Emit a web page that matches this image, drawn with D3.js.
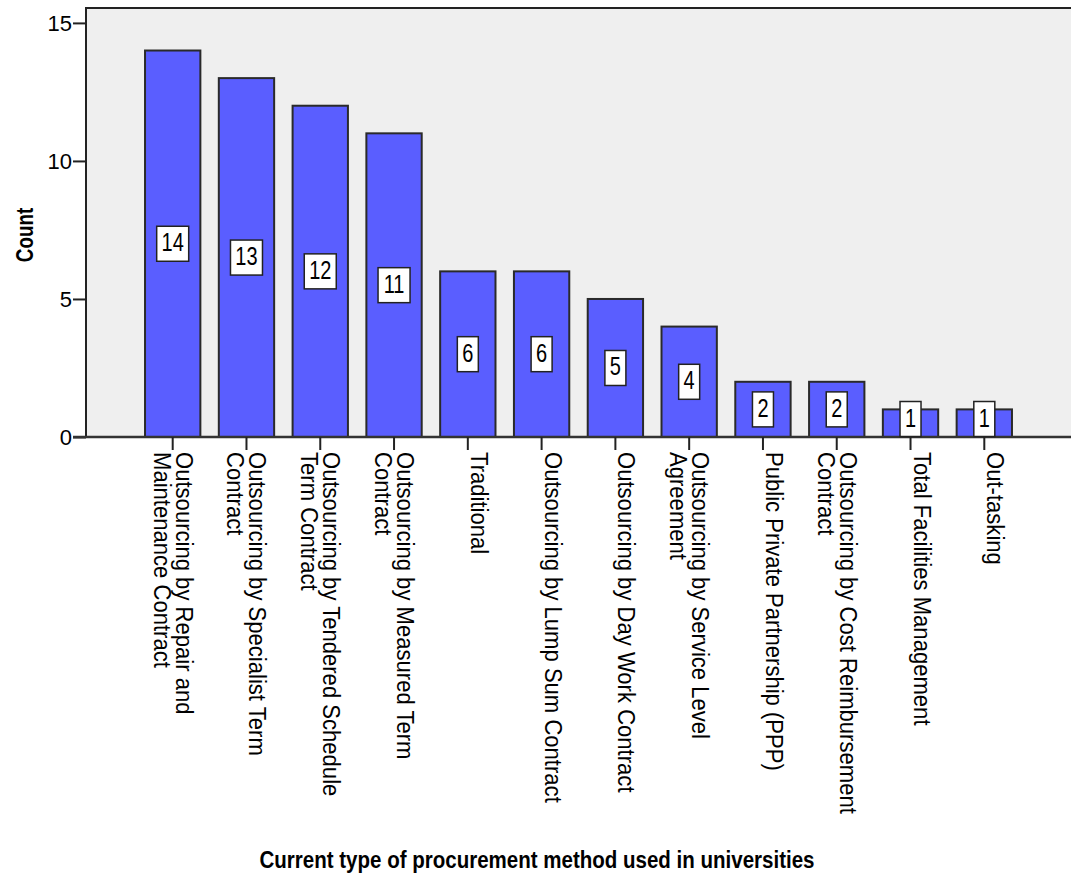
<!DOCTYPE html>
<html>
<head>
<meta charset="utf-8">
<script src="https://cdn.jsdelivr.net/npm/d3@7"></script>
<style>
  body { margin: 0; background: #fff; }
  text { font-family: "Liberation Sans", Arial, sans-serif; fill: #000; }
</style>
</head>
<body>
<div id="chart"></div>
<script>
// categories, in display order
const categories = [
  ["Outsourcing by Repair and", "Maintenance Contract"],
  ["Outsourcing by Specialist Term", "Contract"],
  ["Outsourcing by Tendered Schedule", "Term Contract"],
  ["Outsourcing by Measured Term", "Contract"],
  ["Traditional"],
  ["Outsourcing by Lump Sum Contract"],
  ["Outsourcing by Day Work Contract"],
  ["Outsourcing by Service Level", "Agreement"],
  ["Public Private Partnership (PPP)"],
  ["Outsourcing by Cost Reimbursement", "Contract"],
  ["Total Facilities Management"],
  ["Out-tasking"]
];
const counts = [14, 13, 12, 11, 6, 6, 5, 4, 2, 2, 1, 1];
const yTicks = [0, 5, 10, 15];

const width = 1071, height = 881;
const plotL = 86, plotT = 8, plotR = 1071, plotB = 437;

const svg = d3.select("#chart").append("svg")
  .attr("width", width)
  .attr("height", height);

const keys = categories.map(d => d.join(" "));

const x = d3.scaleBand()
  .domain(keys)
  .range([plotL, plotR])
  .paddingInner(0.25)
  .paddingOuter(0.8);

const y = d3.scaleLinear()
  .domain([0, 15.54])
  .range([plotB, plotT]);

// plot background
svg.append("rect")
  .attr("x", plotL).attr("y", plotT)
  .attr("width", plotR - plotL).attr("height", plotB - plotT)
  .attr("fill", "#efefef");

// bars
svg.append("g").selectAll("rect")
  .data(counts)
  .join("rect")
  .attr("x", (d, i) => x(keys[i]))
  .attr("y", d => y(d))
  .attr("width", x.bandwidth())
  .attr("height", d => y(0) - y(d))
  .attr("fill", "#5a5eff")
  .attr("stroke", "#2a2a2a")
  .attr("stroke-width", 2);

// frame: top + left
svg.append("path")
  .attr("d", `M${plotL},${plotB}V${plotT}H${plotR}`)
  .attr("fill", "none")
  .attr("stroke", "#222")
  .attr("stroke-width", 2);

// y axis
const yAxis = svg.append("g")
  .attr("transform", `translate(${plotL},0)`)
  .call(d3.axisLeft(y).tickValues(yTicks).tickSize(13).tickPadding(1));
yAxis.select(".domain").remove();
yAxis.selectAll("line").attr("stroke", "#222").attr("stroke-width", 2);
yAxis.selectAll("text")
  .style("font-family", "Liberation Sans, Arial, sans-serif")
  .style("font-size", "22px")
  .attr("dy", "0.36em");

// x axis baseline + ticks
svg.append("line")
  .attr("x1", plotL - 13).attr("x2", plotR)
  .attr("y1", plotB).attr("y2", plotB)
  .attr("stroke", "#333").attr("stroke-width", 2.5);

const ticks = svg.append("g").selectAll("g")
  .data(categories)
  .join("g")
  .attr("transform", (d, i) => `translate(${x(keys[i]) + x.bandwidth() / 2},${plotB})`);

ticks.append("line")
  .attr("y1", 0).attr("y2", 13)
  .attr("stroke", "#222").attr("stroke-width", 2);

// rotated category labels (reading downward, first line right of the tick)
ticks.append("g")
  .attr("transform", "translate(2,15) scale(1,0.92) rotate(90)")
  .selectAll("text")
  .data(d => d)
  .join("text")
  .attr("x", 0)
  .attr("y", (d, i) => i * 22 - 1)
  .style("font-size", "24px")
  .text(d => d);

// value labels
const labels = svg.append("g").selectAll("g")
  .data(counts)
  .join("g")
  .attr("transform", (d, i) => {
    const cx = x(keys[i]) + x.bandwidth() / 2;
    const cy = Math.min((y(d) + y(0)) / 2, y(0) - 18);
    return `translate(${cx},${cy})`;
  });

labels.append("rect")
  .attr("x", d => -(String(d).length * 11 + 10) / 2)
  .attr("y", -17.5)
  .attr("width", d => String(d).length * 11 + 10)
  .attr("height", 35)
  .attr("fill", "#fff")
  .attr("stroke", "#222")
  .attr("stroke-width", 1.5);

labels.append("text")
  .attr("text-anchor", "middle")
  .attr("transform", "scale(1,1.25)")
  .attr("y", 6)
  .style("font-size", "20px")
  .text(d => d);

// axis titles
svg.append("text")
  .attr("transform", "translate(33,235) rotate(-90) scale(0.82,1)")
  .attr("text-anchor", "middle")
  .style("font-size", "23px")
  .style("font-weight", "bold")
  .text("Count");

svg.append("text")
  .attr("x", 537)
  .attr("y", 868)
  .attr("text-anchor", "middle")
  .attr("textLength", 555)
  .attr("lengthAdjust", "spacingAndGlyphs")
  .style("font-size", "23px")
  .style("font-weight", "bold")
  .text("Current type of procurement method used in universities");
</script>
</body>
</html>
